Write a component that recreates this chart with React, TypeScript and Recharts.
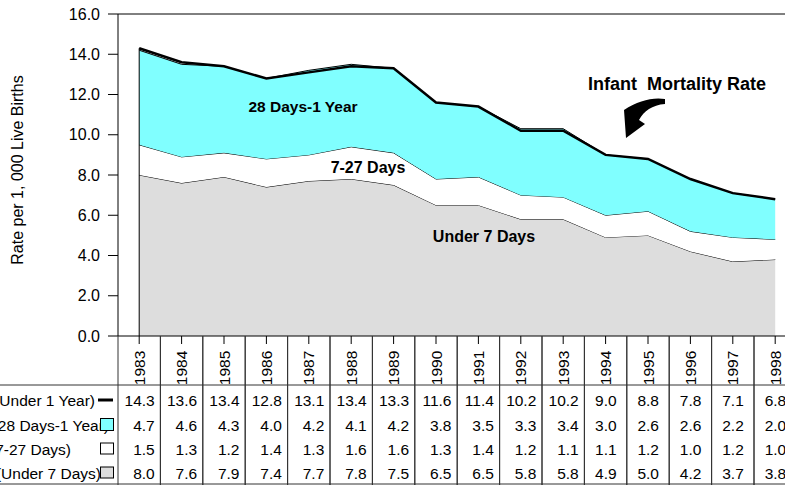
import {ComposedChart, Area, Line, XAxis, YAxis, ReferenceLine} from 'recharts';

const years = ['1983', '1984', '1985', '1986', '1987', '1988', '1989', '1990', '1991', '1992', '1993', '1994', '1995', '1996', '1997', '1998'];
const underOneYear = [14.3, 13.6, 13.4, 12.8, 13.1, 13.4, 13.3, 11.6, 11.4, 10.2, 10.2, 9.0, 8.8, 7.8, 7.1, 6.8];
const days28to1yr = [4.7, 4.6, 4.3, 4.0, 4.2, 4.1, 4.2, 3.8, 3.5, 3.3, 3.4, 3.0, 2.6, 2.6, 2.2, 2.0];
const days7to27 = [1.5, 1.3, 1.2, 1.4, 1.3, 1.6, 1.6, 1.3, 1.4, 1.2, 1.1, 1.1, 1.2, 1.0, 1.2, 1.0];
const under7days = [8.0, 7.6, 7.9, 7.4, 7.7, 7.8, 7.5, 6.5, 6.5, 5.8, 5.8, 4.9, 5.0, 4.2, 3.7, 3.8];
const yTicks = [0, 2, 4, 6, 8, 10, 12, 14, 16];

const rows = [underOneYear, days28to1yr, days7to27, under7days];
const rowLabels = ['(Under 1 Year)', '(28 Days-1 Year)', '(7-27 Days)', '(Under 7 Days)'];

const data = years.map((year, i) => ({
  year,
  total: underOneYear[i],
  post: days28to1yr[i],
  late: days7to27[i],
  early: under7days[i],
}));

const W = 800;
const H = 485;
const LEFT = 118;
const COL = 42.4;
const PLOT_TOP = 14;
const PLOT_BOTTOM = 336;
const RIGHT_MARGIN = W - LEFT - COL * years.length;
const ROW_BASE = [406, 430.5, 455, 479];
const FONT = '"Liberation Sans", Arial, sans-serif';
const CYAN = '#80ffff';
const GRAY = '#dddddd';
const LINE = '#333';
const TABLE_FONT = 15.5;

function TableTick(props: any) {
  const {x, payload} = props;
  const i = years.indexOf(payload.value);
  // excel centres the block of values, which are right aligned inside it
  const maxLen = Math.max(...rows.map((r) => r[i].toFixed(1).length));
  const right = x + (maxLen > 3 ? 15.5 : 11);
  return (
    <g fontFamily={FONT} fill="#000">
      <line x1={x - COL / 2} x2={x - COL / 2} y1={PLOT_BOTTOM} y2={H} stroke={LINE} />
      <line x1={x + COL / 2} x2={x + COL / 2} y1={PLOT_BOTTOM} y2={H} stroke={LINE} />
      <text transform={`translate(${x + 5.5},368) rotate(-90)`} textAnchor="middle" fontSize={TABLE_FONT}>
        {payload.value}
      </text>
      {rows.map((r, k) => (
        <text key={k} x={right} y={ROW_BASE[k]} textAnchor="end" fontSize={TABLE_FONT}>
          {r[i].toFixed(1)}
        </text>
      ))}
    </g>
  );
}

function Overlay() {
  return (
    <svg width={785} height={H} style={{position: 'absolute', left: 0, top: 0, pointerEvents: 'none'}} fontFamily={FONT}>
      <line x1={0} x2={785} y1={385} y2={385} stroke={LINE} />
      <line x1={0} x2={785} y1={484} y2={484} stroke={LINE} />
      <text transform="translate(23,170) rotate(-90)" textAnchor="middle" fontSize={16}>
        Rate per 1, 000 Live Births
      </text>
      {rowLabels.map((t, k) => (
        <text key={t} x={[95, 109, 71, 101][k]} y={ROW_BASE[k]} textAnchor="end" fontSize={TABLE_FONT}>
          {t}
        </text>
      ))}
      <line x1={98} x2={113} y1={400} y2={400} stroke="#000" strokeWidth={3} />
      <rect x={100.5} y={418.5} width={13} height={12} fill={CYAN} stroke="#000" />
      <rect x={100.5} y={443} width={13} height={11} fill="#fff" stroke="#000" />
      <rect x={100.5} y={467} width={13} height={11} fill={GRAY} stroke="#000" />
      <g fontWeight="bold" textAnchor="middle">
        <text x={303} y={112} fontSize={15.5}>28 Days-1 Year</text>
        <text x={368} y={173} fontSize={16}>7-27 Days</text>
        <text x={484} y={242} fontSize={16}>Under 7 Days</text>
        <text x={677} y={90} fontSize={18} style={{whiteSpace: 'pre'}}>Infant  Mortality Rate</text>
      </g>
      <path
        d="M 665 99 C 652 97 638 101 624 110 L 626 138 L 645 124 L 639 120 C 644 111 652 105 665 104 Z"
        fill="#000"
      />
    </svg>
  );
}

export default function App() {
  return (
    <div style={{position: 'absolute', left: 0, top: 0, width: 785, height: H, overflow: 'hidden', background: '#fff'}}>
      <ComposedChart width={W} height={H} data={data} margin={{top: PLOT_TOP, right: RIGHT_MARGIN, bottom: 0, left: 0}}>
        <XAxis
          dataKey="year"
          height={H - PLOT_BOTTOM}
          padding={{left: COL / 2, right: COL / 2}}
          axisLine={{stroke: '#000'}}
          tickLine={{stroke: '#000'}}
          tickSize={8}
          interval={0}
          tick={<TableTick />}
        />
        <YAxis
          width={LEFT}
          domain={[0, 16]}
          ticks={yTicks}
          tickFormatter={(v: number) => v.toFixed(1)}
          axisLine={{stroke: '#000'}}
          tickLine={{stroke: '#000'}}
          tickSize={10}
          tickMargin={8}
          tick={{fontSize: 16, fill: '#000', fontFamily: FONT}}
        />
        <ReferenceLine y={16} stroke="#000" />
        <Area type="linear" dataKey="early" stackId="s" fill={GRAY} fillOpacity={1} stroke="#000" strokeWidth={1} isAnimationActive={false} />
        <Area type="linear" dataKey="late" stackId="s" fill="#fff" fillOpacity={1} stroke="#000" strokeWidth={1} isAnimationActive={false} />
        <Area type="linear" dataKey="post" stackId="s" fill={CYAN} fillOpacity={1} stroke="#000" strokeWidth={1} isAnimationActive={false} />
        <ReferenceLine segment={[{x: years[0], y: 0}, {x: years[0], y: underOneYear[0]}]} stroke="#000" />
        <ReferenceLine
          segment={[{x: years[years.length - 1], y: 0}, {x: years[years.length - 1], y: underOneYear[years.length - 1]}]}
          stroke="#000"
        />
        <Line type="linear" dataKey="total" stroke="#000" strokeWidth={2.5} dot={false} isAnimationActive={false} />
      </ComposedChart>
      <Overlay />
    </div>
  );
}
